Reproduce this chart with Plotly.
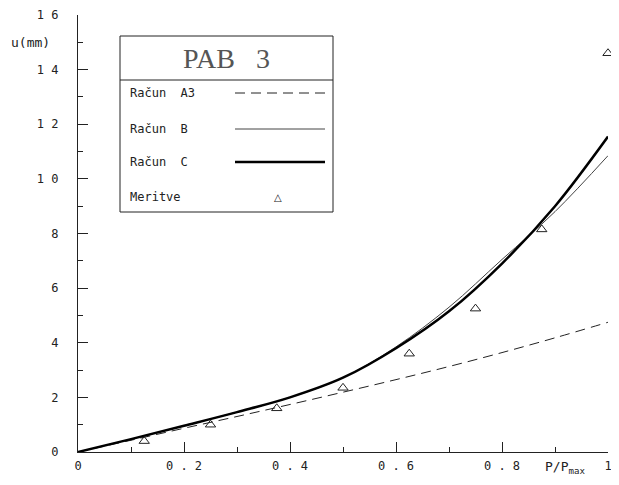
import plotly.graph_objects as go

# --- data ---
p_ratio = [0, 0.1, 0.2, 0.3, 0.4, 0.5, 0.6, 0.7, 0.8, 0.9, 1.0]
racun_a3 = [0, 0.43, 0.87, 1.3, 1.74, 2.19, 2.65, 3.13, 3.64, 4.18, 4.75]
racun_b = [0, 0.47, 0.96, 1.46, 2.0, 2.72, 3.85, 5.3, 7.05, 8.8, 10.85]
racun_c = [0, 0.47, 0.96, 1.46, 2.0, 2.72, 3.8, 5.15, 6.9, 9.0, 11.55]
meritve_x = [0.125, 0.25, 0.375, 0.5, 0.625, 0.75, 0.875, 1.0]
meritve_y = [0.4, 1.0, 1.6, 2.35, 3.6, 5.25, 8.15, 14.6]

x_tickvals = [0, 0.2, 0.4, 0.6, 0.8, 1.0]
x_ticktext = ["0", "0 . 2", "0 . 4", "0 . 6", "0 . 8", "1"]
y_tickvals = [0, 2, 4, 6, 8, 10, 12, 14, 16]
y_ticktext = ["0", "2", "4", "6", "8", "1 0", "1 2", "1 4", "1 6"]

legend_title = "PAB   3"
legend_labels = ["Račun  A3", "Račun  B", "Račun  C", "Meritve"]

MONO = "DejaVu Sans Mono"
INK = "#222"

fig = go.Figure()
fig.add_trace(go.Scatter(x=p_ratio, y=racun_a3, mode="lines", line_shape="spline",
                         line=dict(color=INK, width=1, dash="10px,6px"), name=legend_labels[0]))
fig.add_trace(go.Scatter(x=p_ratio, y=racun_b, mode="lines", line_shape="spline",
                         line=dict(color="#444", width=1), name=legend_labels[1]))
fig.add_trace(go.Scatter(x=p_ratio, y=racun_c, mode="lines", line_shape="spline",
                         line=dict(color="#000", width=2.5), name=legend_labels[2]))
fig.add_trace(go.Scatter(x=meritve_x, y=meritve_y, mode="markers", cliponaxis=False,
                         marker=dict(symbol="triangle-up-open", size=9, color=INK,
                                     line=dict(width=1)),
                         name=legend_labels[3]))

# plot area spans 530 px (x) by 437 px (y); legend box placed in paper units
PW, PH = 530.0, 437.0
def px(x_screen):
    return (x_screen - 78) / PW
def py(y_screen):
    return (452 - y_screen) / PH

shapes = [
    dict(type="rect", xref="paper", yref="paper", x0=px(120), x1=px(333), y0=py(212), y1=py(36),
         line=dict(color=INK, width=1)),
    dict(type="line", xref="paper", yref="paper", x0=px(120), x1=px(333), y0=py(80), y1=py(80),
         line=dict(color=INK, width=1)),
]
row_y = [py(93), py(129), py(162), py(197)]
sample_styles = [dict(color=INK, width=1, dash="10px,6px"),
                 dict(color="#444", width=1),
                 dict(color="#000", width=2.5)]
for yy, st in zip(row_y[:3], sample_styles):
    shapes.append(dict(type="line", xref="paper", yref="paper", x0=px(235), x1=px(325),
                       y0=yy, y1=yy, line=st))

annotations = [
    dict(text=legend_title, xref="paper", yref="paper", x=px(226), y=py(58),
         xanchor="center", yanchor="middle", showarrow=False,
         font=dict(family="Liberation Serif", size=28, color="#555")),
]
for yy, lab in zip(row_y, legend_labels):
    annotations.append(dict(text=lab, xref="paper", yref="paper", x=px(128), y=yy,
                            xanchor="left", yanchor="middle", showarrow=False,
                            font=dict(family=MONO, size=12, color=INK)))
annotations.append(dict(text="△", xref="paper", yref="paper", x=px(278), y=row_y[3],
                        xanchor="center", yanchor="middle",
                        showarrow=False, font=dict(family="DejaVu Sans", size=10, color=INK)))
annotations.append(dict(text="u(mm)", xref="paper", yref="paper", x=px(30), y=py(42),
                        xanchor="center", yanchor="middle",
                        showarrow=False, font=dict(family=MONO, size=13, color=INK)))
annotations.append(dict(text="P/P<sub>max</sub>", xref="paper", yref="paper", x=px(565),
                        y=py(467), xanchor="center", yanchor="middle",
                        showarrow=False, font=dict(family=MONO, size=13, color=INK)))

# page body has an 8px margin, so the figure is sized to fit inside the window
fig.update_layout(
    width=603, height=469,
    margin=dict(l=70, r=3, t=7, b=25, autoexpand=False),
    paper_bgcolor="white", plot_bgcolor="white",
    showlegend=False,
    shapes=shapes, annotations=annotations,
    font=dict(family=MONO, size=12, color=INK),
)
fig.update_xaxes(range=[0, 1], tickvals=x_tickvals, ticktext=x_ticktext, automargin=False,
                 showgrid=False, zeroline=False, showline=True, linecolor=INK, linewidth=1.2,
                 ticks="inside", ticklen=10, tickcolor=INK, tickwidth=1,
                 minor=dict(dtick=0.1, ticks="inside", ticklen=5, tickcolor=INK, tickwidth=1),
                 ticklabelstandoff=2, ticklabeloverflow="allow",
                 tickfont=dict(family=MONO, size=12, color=INK))
fig.update_yaxes(range=[0, 16], tickvals=y_tickvals, ticktext=y_ticktext, automargin=False,
                 showgrid=False, zeroline=False, showline=True, linecolor=INK, linewidth=1.2,
                 ticks="inside", ticklen=10, tickcolor=INK, tickwidth=1,
                 minor=dict(dtick=1, ticks="inside", ticklen=5, tickcolor=INK, tickwidth=1),
                 ticklabelstandoff=16, ticklabeloverflow="allow",
                 tickfont=dict(family=MONO, size=12, color=INK))

fig.write_html("out.html")
